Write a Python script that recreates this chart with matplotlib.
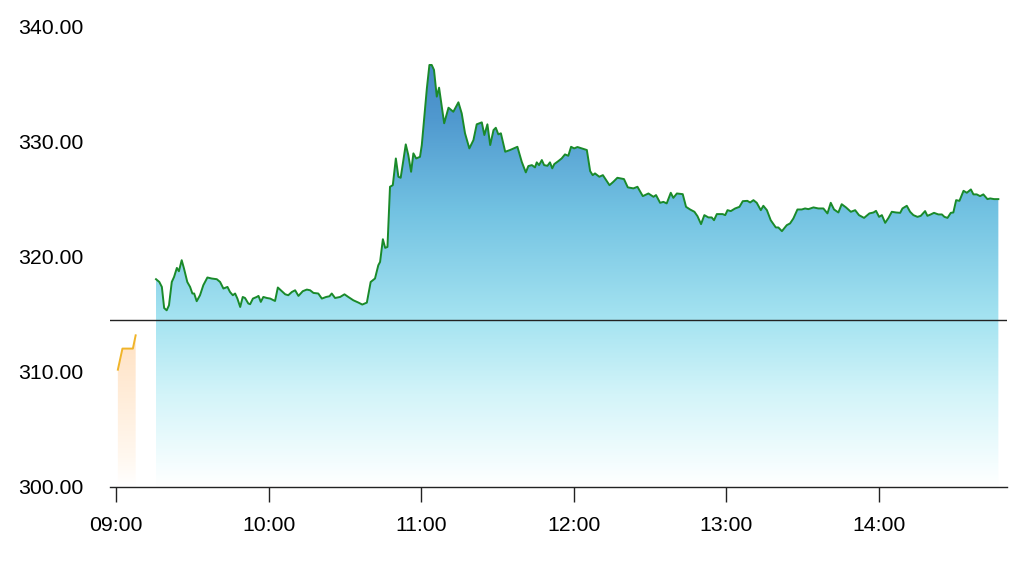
import numpy as np
import matplotlib
matplotlib.use("Agg")
import matplotlib.pyplot as plt
from matplotlib.colors import LinearSegmentedColormap

# minutes after 09:00 and price
pre_minutes = [0.7, 2.5, 6.6, 7.7]
pre_price = [310.18, 312.01, 312.01, 313.16]

minutes = [
    15.7, 17.0, 18.0, 18.9, 19.9, 20.8, 21.9, 22.8, 23.9, 24.7,
    25.8, 26.7, 28.0, 29.1, 30.0, 30.7, 31.7, 33.0, 34.3, 35.9,
    37.6, 39.6, 40.9, 42.2, 43.8, 44.8, 45.9, 46.8, 47.7, 48.8,
    49.8, 50.7, 52.0, 52.7, 53.8, 55.3, 56.0, 56.9, 57.9, 59.3,
    60.6, 62.5, 63.6, 65.2, 66.5, 67.7, 69.1, 70.4, 71.7, 73.4,
    75.0, 76.3, 77.6, 79.5, 80.9, 82.6, 83.9, 84.8, 86.1, 88.1,
    89.8, 91.3, 93.3, 95.3, 96.8, 98.6, 100.1, 101.8, 103.1, 103.8,
    104.9, 105.8, 106.7, 107.7, 108.8, 110.0, 111.0, 111.9, 113.9, 114.9,
    116.0, 116.9, 118.0, 119.5, 120.2, 122.2, 123.2, 124.1, 125.0, 126.1,
    127.0, 129.0, 130.7, 132.6, 134.6, 135.9, 137.2, 138.9, 140.5, 141.8,
    143.8, 144.8, 146.0, 147.1, 148.4, 149.3, 150.3, 151.3, 153.0, 154.9,
    157.8, 159.5, 161.1, 162.1, 163.5, 164.7, 165.4, 166.3, 167.4, 168.3,
    169.6, 170.6, 171.5, 172.3, 173.9, 175.2, 176.5, 177.8, 178.9, 180.1,
    181.4, 183.1, 185.1, 186.4, 187.4, 188.3, 190.0, 191.4, 194.0, 195.5,
    197.1, 199.7, 201.2, 203.4, 205.0, 207.1, 209.3, 211.3, 212.3, 213.9,
    215.2, 216.5, 218.1, 219.1, 220.5, 222.8, 224.1, 225.7, 227.4, 228.6,
    230.0, 231.3, 232.9, 234.2, 235.1, 236.2, 238.5, 239.5, 240.4, 241.7,
    243.4, 245.1, 246.4, 248.2, 249.3, 250.6, 251.9, 253.5, 254.5, 255.9,
    257.4, 259.4, 260.4, 261.8, 263.7, 265.0, 266.3, 267.9, 269.6, 270.9,
    272.2, 274.2, 276.1, 278.1, 279.7, 281.0, 282.3, 284.0, 285.3, 287.0,
    288.9, 290.6, 292.1, 294.1, 296.2, 297.8, 298.8, 300.0, 301.1, 302.4,
    303.7, 305.0, 306.7, 308.3, 309.2, 310.9, 312.2, 313.5, 315.1, 316.4,
    318.1, 319.0, 320.3, 321.6, 323.3, 324.7, 325.7, 326.9, 328.2, 329.2,
    330.3, 331.6, 333.2, 334.5, 336.1, 337.1, 338.4, 339.7, 341.0, 342.6,
    343.7, 345.2, 346.9,
]
price = [
    318.03, 317.79, 317.36, 315.53, 315.33, 315.77, 317.79, 318.23, 319.01, 318.72,
    319.68, 318.96, 317.79, 317.36, 316.79, 316.79, 316.12, 316.64, 317.51, 318.18,
    318.09, 318.03, 317.79, 317.22, 317.36, 316.92, 316.64, 316.79, 316.35, 315.62,
    316.49, 316.40, 315.92, 315.86, 316.35, 316.49, 316.58, 316.06, 316.49, 316.40,
    316.35, 316.14, 317.31, 316.99, 316.72, 316.64, 316.92, 317.07, 316.58, 316.99,
    317.13, 317.07, 316.84, 316.79, 316.35, 316.49, 316.55, 316.79, 316.40, 316.49,
    316.72, 316.49, 316.20, 316.00, 315.83, 316.00, 317.79, 318.09, 319.24, 319.53,
    321.50, 320.75, 320.83, 326.05, 326.19, 328.51, 326.92, 326.83, 329.73, 328.80,
    327.35, 328.95, 328.51, 328.65, 329.67, 334.60, 336.62, 336.62, 336.19, 333.87,
    334.65, 331.56, 332.91, 332.56, 333.38, 332.42, 330.69, 329.38, 330.10, 331.47,
    331.64, 330.54, 331.47, 329.67, 330.97, 331.17, 330.60, 330.69, 329.09, 329.24,
    329.52, 328.22, 327.30, 327.85, 327.93, 327.73, 328.17, 327.93, 328.37, 327.93,
    327.87, 328.17, 327.65, 328.02, 328.28, 328.51, 328.86, 328.74, 329.52, 329.38,
    329.50, 329.38, 329.24, 327.41, 327.06, 327.21, 326.92, 327.06, 326.19, 326.48,
    326.83, 326.72, 326.00, 325.91, 326.05, 325.24, 325.47, 325.18, 325.33, 324.66,
    324.74, 324.61, 325.53, 325.09, 325.47, 325.41, 324.31, 324.08, 323.88, 323.50,
    322.81, 323.59, 323.39, 323.39, 323.15, 323.68, 323.68, 323.59, 324.02, 323.94,
    324.17, 324.31, 324.80, 324.83, 324.69, 324.89, 324.66, 324.02, 324.40, 324.02,
    323.15, 322.52, 322.52, 322.20, 322.72, 322.87, 323.30, 324.08, 324.08, 324.17,
    324.11, 324.26, 324.17, 324.17, 323.74, 324.66, 324.08, 323.82, 324.54, 324.26,
    323.88, 324.02, 323.59, 323.35, 323.74, 323.82, 323.96, 323.44, 323.59, 322.92,
    323.35, 323.88, 323.82, 323.79, 324.17, 324.40, 323.88, 323.59, 323.44, 323.53,
    323.94, 323.53, 323.65, 323.79, 323.65, 323.65, 323.44, 323.35, 323.79, 323.82,
    324.89, 324.83, 325.70, 325.53, 325.82, 325.39, 325.39, 325.24, 325.39, 324.98,
    325.04, 324.98, 324.98,
]

prev_close = 314.47
tick_minutes = [0, 60, 120, 180, 240, 300]
tick_labels = ["09:00", "10:00", "11:00", "12:00", "13:00", "14:00"]
y_ticks = [300, 310, 320, 330, 340]

plt.rcParams["font.family"] = ["Liberation Sans", "DejaVu Sans"]

fig = plt.figure(figsize=(10.24, 5.63), dpi=100)
ax = fig.add_axes([0.1074, 0.135, 0.876, 0.8188])
xmin, xmax = -2.4, 350.3
ax.set_xlim(xmin, xmax)
ax.set_ylim(300, 340)


def gradient_fill(x, y, cmap, zorder):
    """fill under the curve with a vertical gradient clipped to the area"""
    poly = ax.fill_between(x, y, 300, facecolor="none", edgecolor="none")
    grad = np.linspace(1, 0, 256).reshape(-1, 1)
    img = ax.imshow(grad, cmap=cmap, aspect="auto", origin="upper",
                    extent=[xmin, xmax, 300, 340], zorder=zorder,
                    interpolation="bicubic")
    img.set_clip_path(poly.get_paths()[0], transform=ax.transData)
    return img


blue = LinearSegmentedColormap.from_list("blue", [
    (0.0, "#ffffff"), (0.05, "#f4fdfe"), (0.2, "#d3f4f9"),
    (0.36, "#a6e4f1"), (0.6, "#72c2e2"), (0.8, "#5099cf"), (1.0, "#3f7fc0")])
orange = LinearSegmentedColormap.from_list("orange", [
    (0.0, "#ffffff"), (0.06, "#fff8f0"), (0.3, "#ffe4c8"), (1.0, "#ffc890")])

gradient_fill(minutes, price, blue, 1)
gradient_fill(pre_minutes, pre_price, orange, 1)

ax.plot(minutes, price, color="#1a8a2a", lw=1.4, zorder=3)
ax.plot(pre_minutes, pre_price, color="#f0b429", lw=1.4, zorder=3)
ax.axhline(prev_close, color="#222222", lw=1.0, zorder=4)

for s in ["top", "right", "left"]:
    ax.spines[s].set_visible(False)
ax.spines["bottom"].set_color("#222222")
ax.spines["bottom"].set_linewidth(1.0)

ax.set_xticks(tick_minutes)
ax.set_xticklabels(tick_labels)
ax.set_yticks(y_ticks)
ax.set_yticklabels([f"{v:.2f}" for v in y_ticks])
ax.tick_params(axis="x", length=10.8, width=1.0, color="#222222", pad=10, labelsize=15.3)
ax.tick_params(axis="y", length=0, pad=19.5, labelsize=15.3)
for lbl in ax.get_yticklabels():
    lbl.set_horizontalalignment("right")

fig.savefig("out.png", dpi=100, facecolor="white")
